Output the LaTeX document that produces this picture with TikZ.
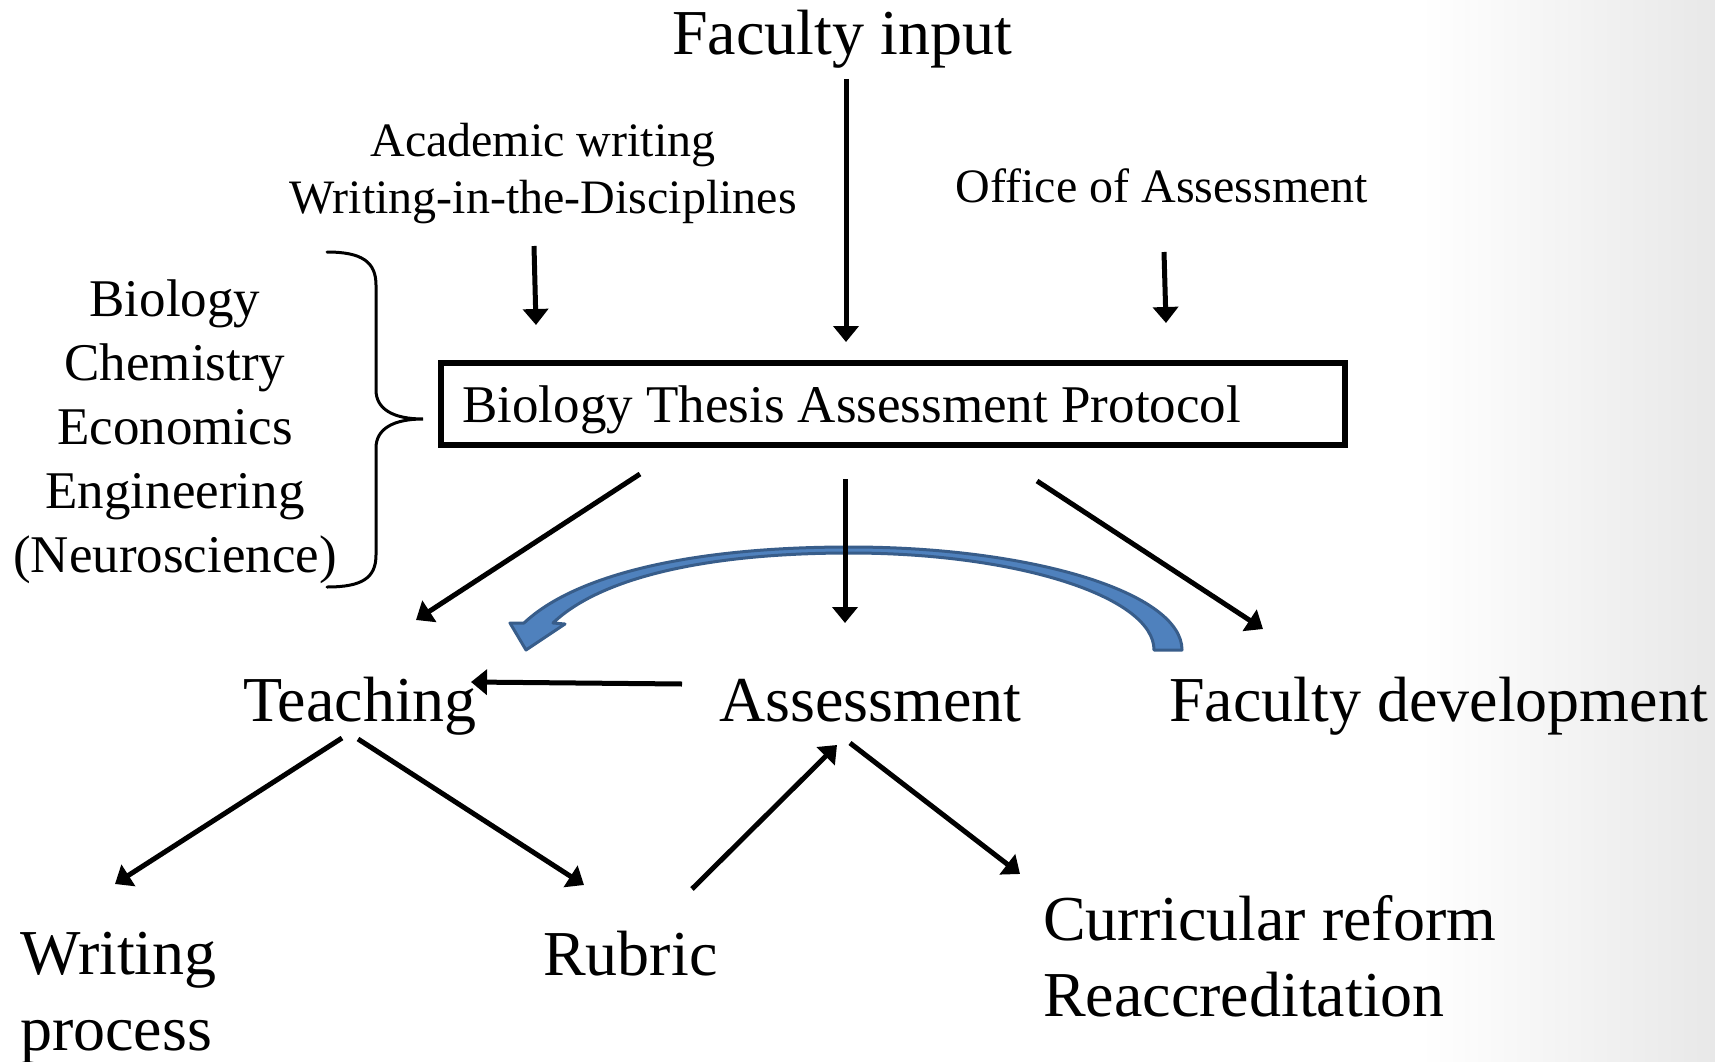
\documentclass[tikz,border=0pt]{standalone}
\usepackage{fontspec}
\setmainfont{Liberation Serif}
\usetikzlibrary{arrows.meta}
\definecolor{bluefill}{HTML}{4F81BD}
\definecolor{blueline}{HTML}{385D8A}
\begin{document}
\begin{tikzpicture}[x=1pt,y=-1pt,
  conn/.style={line width=5pt,-{Triangle[length=16pt,width=25pt]}},
  bigtxt/.style={font=\fontsize{64}{76}\selectfont,inner sep=0pt},
  midtxt/.style={font=\fontsize{53}{61}\selectfont,inner sep=0pt},
  smalltxt/.style={font=\fontsize{48}{56}\selectfont,inner sep=0pt},
  bracestyle/.style={line width=3pt,line cap=round},
  bluearrow/.style={fill=bluefill,draw=blueline,line width=3pt,line join=round}
]
\useasboundingbox (0,0) rectangle (1715,1062);
\fill[white] (0,0) rectangle (1715,1062);
\shade[left color=white,right color=black!9] (1420,0) rectangle (1715,1062);

% texts
\node[bigtxt,anchor=base] (fi) at (842,55) {Faculty input};
\node[smalltxt,anchor=base] (aw1) at (543,157) {Academic writing};
\node[smalltxt,anchor=base] (aw2) at (543,213) {Writing-in-the-Disciplines};
\node[smalltxt,anchor=base] (oa) at (1162,202) {Office of Assessment};

\node[draw,line width=5.5pt,minimum width=904pt,minimum height=82pt,inner sep=0pt] (box) at (893,404) {};
\node[midtxt,anchor=base west] (boxtxt) at (462,422) {Biology Thesis Assessment Protocol};

\node[midtxt,anchor=base] (bio) at (175,316) {Biology};
\node[midtxt,anchor=base] (chem) at (175,380) {Chemistry};
\node[midtxt,anchor=base] (econ) at (175,444) {Economics};
\node[midtxt,anchor=base] (eng) at (175,508) {Engineering};
\node[midtxt,anchor=base] (neuro) at (175,572) {(Neuroscience)};

\node[bigtxt,anchor=base west] (teach) at (243,721) {Teaching};
\node[bigtxt,anchor=base west] (assess) at (719,721) {Assessment};
\node[bigtxt,anchor=base west] (facdev) at (1169,721) {Faculty development};

\node[bigtxt,anchor=base west] (wp1) at (20,974) {Writing};
\node[bigtxt,anchor=base west] (wp2) at (20,1050) {process};
\node[bigtxt,anchor=base west] (rub) at (543,975) {Rubric};
\node[bigtxt,anchor=base west] (cr1) at (1043,940) {Curricular reform};
\node[bigtxt,anchor=base west] (cr2) at (1043,1016) {Reaccreditation};

% brace
\coordinate (brtop) at (327,252);
\coordinate (brtip) at (423,419);
\coordinate (brbot) at (327,587);
\draw[bracestyle] (brtop) .. controls (362,252) and (376,262) .. (376,285)
  -- (376,390) .. controls (376,409) and (393,419) .. (brtip)
  .. controls (393,419) and (376,429) .. (376,448)
  -- (376,555) .. controls (376,578) and (362,587) .. (brbot);

% blue curved arrow
\coordinate (blhead) at (526,650);
\filldraw[bluearrow] (524,623) .. controls (575,575) and (690,547) .. (850,547)
  .. controls (1033,547) and (1182,593) .. (1182,650)
  -- (1154,650)
  .. controls (1154,597) and (1018,553) .. (850,553)
  .. controls (705,553) and (600,578) .. (553,623)
  -- (565,624) -- (blhead) -- (510,623) -- cycle;

% connector end points
\coordinate (fi-s) at (846,79);
\coordinate (fi-e) at (846,342);
\coordinate (aw-s) at (534,246);
\coordinate (aw-e) at (536,325);
\coordinate (oa-s) at (1164,252);
\coordinate (oa-e) at (1166,323);
\coordinate (bx-l) at (640,474);
\coordinate (bx-m) at (845,479);
\coordinate (bx-r) at (1037,481);
\coordinate (te-in) at (416,620);
\coordinate (as-in) at (845,623);
\coordinate (fd-in) at (1263,629);
\coordinate (as-l) at (682,684);
\coordinate (te-r) at (471,682);
\coordinate (te-b1) at (342,738);
\coordinate (te-b2) at (358,739);
\coordinate (wp-in) at (115,884);
\coordinate (rb-in) at (584,885);
\coordinate (rb-out) at (692,889);
\coordinate (as-b) at (837,745);
\coordinate (as-b2) at (850,743);
\coordinate (cr-in) at (1020,874);

\draw[conn] (fi-s) -- (fi-e);
\draw[conn] (aw-s) -- (aw-e);
\draw[conn] (oa-s) -- (oa-e);
\draw[conn] (bx-l) -- (te-in);
\draw[conn] (bx-m) -- (as-in);
\draw[conn] (bx-r) -- (fd-in);
\draw[conn] (as-l) -- (te-r);
\draw[conn] (te-b1) -- (wp-in);
\draw[conn] (te-b2) -- (rb-in);
\draw[conn] (rb-out) -- (as-b);
\draw[conn] (as-b2) -- (cr-in);
\end{tikzpicture}
\end{document}
